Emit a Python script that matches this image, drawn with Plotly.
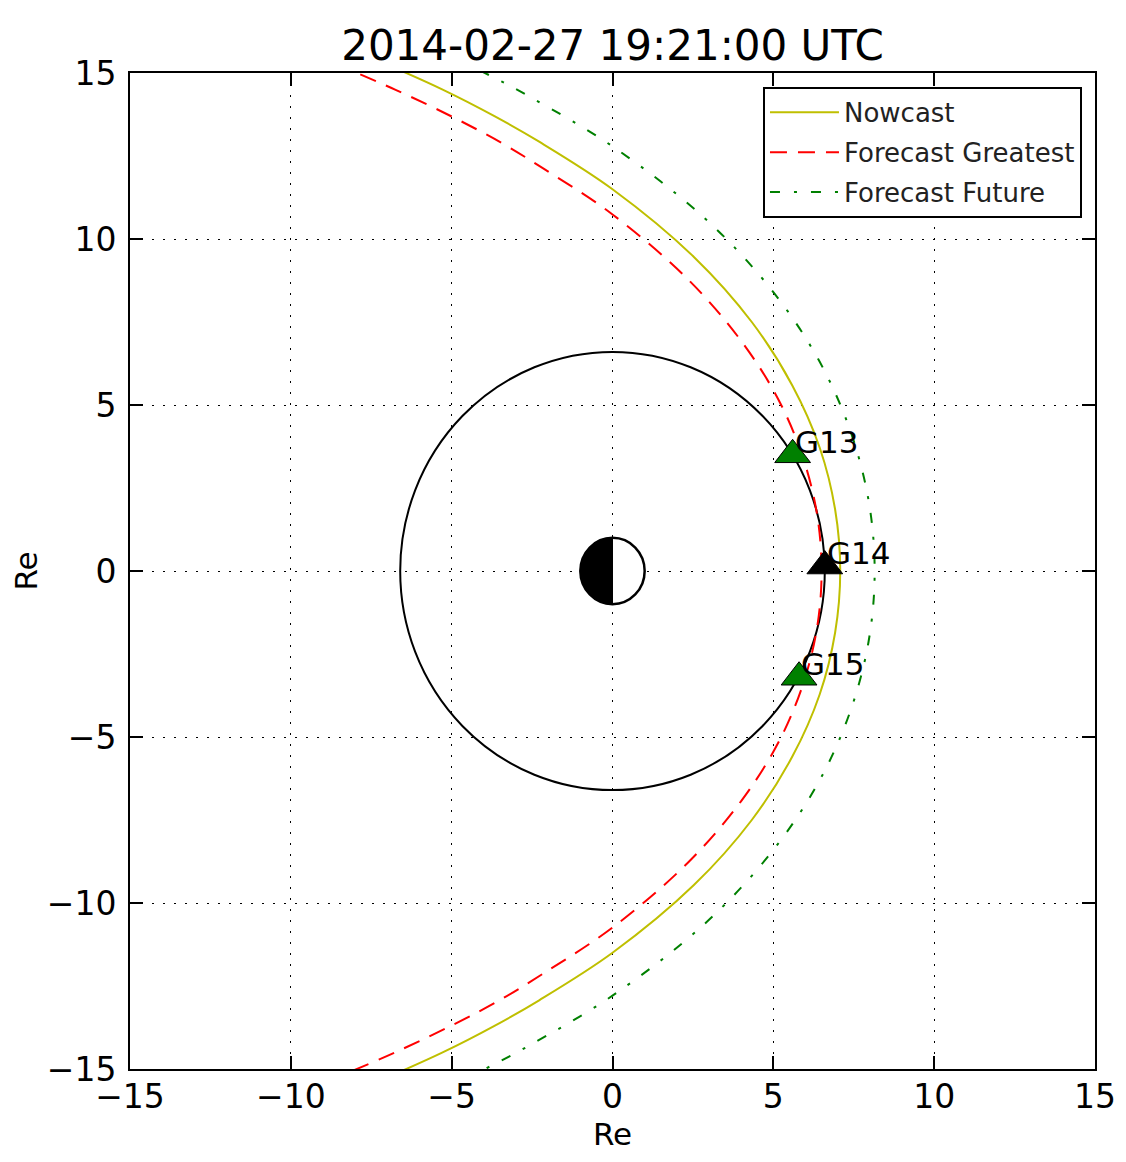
import plotly.graph_objects as go

# ---- data ----
TITLE = "2014-02-27 19:21:00 UTC"

NOWCAST_X = [-7.14, -5.28, -3.67, -2.28, 0.00, 2.53, 4.33, 5.59, 6.44, 6.92, 7.08,
             6.92, 6.44, 5.59, 4.33, 2.53, 0.00, -2.28, -3.67, -5.28, -7.14]
NOWCAST_Y = [-15.31, -14.50, -13.70, -12.93, -11.50, -9.46, -7.50, -5.59, -3.72, -1.86, 0.00,
             1.86, 3.72, 5.59, 7.50, 9.46, 11.50, 12.93, 13.70, 14.50, 15.31]

GREATEST_X = [-8.88, -6.76, -4.98, -3.46, -2.13, 0.00, 2.35, 4.00, 5.16, 5.92, 6.36, 6.50,
              6.36, 5.92, 5.16, 4.00, 2.35, 0.00, -2.13, -3.46, -4.98, -6.76, -8.88]
GREATEST_Y = [-15.38, -14.50, -13.68, -12.90, -12.11, -10.74, -8.78, -6.93, -5.16, -3.42, -1.70, 0.00,
              1.70, 3.42, 5.16, 6.93, 8.78, 10.74, 12.11, 12.90, 13.68, 14.50, 15.38]

FUTURE_X = [-5.75, -4.03, -2.51, 0.00, 2.85, 4.91, 6.39, 7.38, 7.96, 8.15,
            7.96, 7.38, 6.39, 4.91, 2.85, 0.00, -2.51, -4.03, -5.75]
FUTURE_Y = [-15.80, -15.03, -14.25, -12.79, -10.64, -8.51, -6.39, -4.26, -2.13, 0.00,
            2.13, 4.26, 6.39, 8.51, 10.64, 12.79, 14.25, 15.03, 15.80]

SAT_NAMES = ["G13", "G14", "G15"]
SAT_X = [5.6, 6.6, 5.8]
SAT_Y = [3.5, 0.15, -3.2]
SAT_COLORS = ["#008000", "#000000", "#008000"]

GEO_RADIUS = 6.6
EARTH_RADIUS = 1.0

AXIS_RANGE = [-15, 15]
TICKS = [-15, -10, -5, 0, 5, 10, 15]

FONT = "DejaVu Sans"

fig = go.Figure()

fig.add_trace(go.Scatter(x=NOWCAST_X, y=NOWCAST_Y, mode="lines", name="Nowcast",
                         legendgroup="a",
                         line=dict(color="#bfbf00", width=2, shape="spline")))
fig.add_trace(go.Scatter(x=GREATEST_X, y=GREATEST_Y, mode="lines", name="Forecast Greatest",
                         legendgroup="b",
                         line=dict(color="#ff0000", width=2, shape="spline", dash="17px,11px")))
fig.add_trace(go.Scatter(x=FUTURE_X, y=FUTURE_Y, mode="lines", name="Forecast Future",
                         legendgroup="c",
                         line=dict(color="#008000", width=2, shape="spline",
                                   dash="10px,14px,3px,14px")))

fig.add_trace(go.Scatter(x=SAT_X, y=SAT_Y, mode="markers", showlegend=False,
                         marker=dict(symbol="triangle-up", size=31, color=SAT_COLORS,
                                     line=dict(color="black", width=1))))

for name, sx, sy in zip(SAT_NAMES, SAT_X, SAT_Y):
    fig.add_annotation(x=sx, y=sy, text=name, showarrow=False, xanchor="left",
                       yanchor="bottom", yshift=-7, xshift=0,
                       font=dict(family=FONT, size=31, color="black"))

# geosynchronous orbit circle
fig.add_shape(type="circle", xref="x", yref="y",
              x0=-GEO_RADIUS, x1=GEO_RADIUS, y0=-GEO_RADIUS, y1=GEO_RADIUS,
              line=dict(color="black", width=2), layer="between")

# Earth: white disc, black night side
R = EARTH_RADIUS
k = 0.5523 * R
fig.add_shape(type="circle", xref="x", yref="y", x0=-R, x1=R, y0=-R, y1=R,
              fillcolor="white", line=dict(color="black", width=2.5), layer="above")
half = (f"M 0,{R} C {-k},{R} {-R},{k} {-R},0 C {-R},{-k} {-k},{-R} 0,{-R} Z")
fig.add_shape(type="path", xref="x", yref="y", path=half, fillcolor="black",
              line=dict(color="black", width=1), layer="above")

axis_common = dict(range=AXIS_RANGE, tickvals=TICKS, showgrid=True, gridcolor="black",
                   gridwidth=1, griddash="2px,9px", zeroline=False, showline=True,
                   linecolor="black", linewidth=2, mirror="ticks", ticks="inside",
                   ticklen=13, tickwidth=1.5, tickcolor="black", automargin=False,
                   tickfont=dict(family=FONT, size=33, color="black"))

fig.update_xaxes(**axis_common, ticklabelstandoff=-3,
                 title=dict(text="Re", font=dict(family=FONT, size=31, color="black"),
                            standoff=2))
fig.update_yaxes(**axis_common, ticklabelstandoff=5,
                 title=dict(text="Re", font=dict(family=FONT, size=31, color="black"),
                            standoff=22))

fig.update_layout(
    width=1126, height=1162,
    margin=dict(l=122, r=39, t=65, b=101),
    paper_bgcolor="white", plot_bgcolor="white",
    title=dict(text=TITLE, x=0.5, xref="paper", y=1 - 37 / 1162, yref="container",
               yanchor="middle", xanchor="center",
               font=dict(family=FONT, size=42, color="black")),
    legend=dict(x=0.9865, y=0.986, xanchor="right", yanchor="top",
                bgcolor="white", bordercolor="black", borderwidth=2,
                font=dict(family=FONT, size=26, color="#222222"),
                itemwidth=69, tracegroupgap=3, traceorder="grouped"),
    showlegend=True,
)

fig.write_html("out.html")
